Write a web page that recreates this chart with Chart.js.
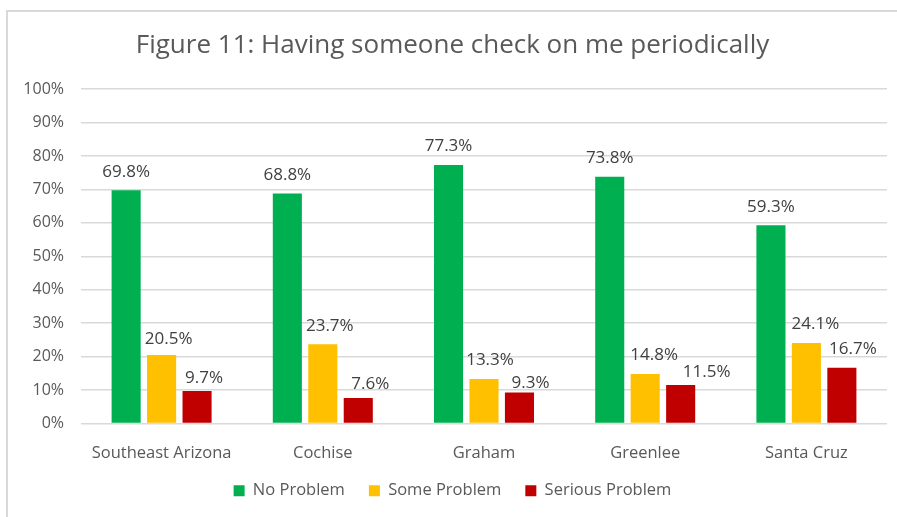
<!DOCTYPE html>
<html>
<head>
<meta charset="utf-8">
<script src="https://cdn.jsdelivr.net/npm/chart.js@4/dist/chart.umd.min.js"></script>
<style>
  body { margin: 0; background: #fff; }
  #wrap { position: relative; width: 897px; height: 517px; }
  #frame { position: absolute; left: 6px; top: 10px; right: -4px; bottom: -4px; border-top: 2px solid #d9d9d9; border-left: 2px solid #d9d9d9; }
  canvas { position: absolute; left: 0; top: 0; }
</style>
</head>
<body>
<div id="wrap">
  <div id="frame"></div>
  <canvas id="grafica" width="897" height="517"></canvas>
</div>
<script>
const regiones = ['Southeast Arizona', 'Cochise', 'Graham', 'Greenlee', 'Santa Cruz'];
const noProblem = [69.8, 68.8, 77.3, 73.8, 59.3];
const someProblem = [20.5, 23.7, 13.3, 14.8, 24.1];
const seriousProblem = [9.7, 7.6, 9.3, 11.5, 16.7];
const yTicks = [0, 10, 20, 30, 40, 50, 60, 70, 80, 90, 100];

const fuente = 'Open Sans';

// desplazamiento de las etiquetas (como en el original)
const despX = [[0, 0, 0, 0, 0], [7, 7, 6, 9, 9], [7, 12, 11, 26, 11]];
const despY = [[0, 0, 0, 0, 0], [3, 0, 0, 0, 0], [6, 5, 9, 6, 0]];

// etiquetas encima de cada barra
const etiquetas = {
  id: 'etiquetas',
  afterDatasetsDraw(chart) {
    const ctx = chart.ctx;
    ctx.save();
    ctx.font = '17px "Open Sans"';
    ctx.fillStyle = '#404040';
    ctx.textAlign = 'center';
    ctx.textBaseline = 'bottom';
    chart.data.datasets.forEach((ds, i) => {
      const meta = chart.getDatasetMeta(i);
      meta.data.forEach((bar, j) => {
        ctx.fillText(ds.data[j].toFixed(1) + '%', bar.x + despX[i][j], bar.y - 10 + despY[i][j]);
      });
    });
    ctx.restore();
  }
};

new Chart(document.getElementById('grafica'), {
  type: 'bar',
  data: {
    labels: regiones,
    datasets: [
      { label: 'No Problem', data: noProblem, backgroundColor: '#00B050' },
      { label: 'Some Problem', data: someProblem, backgroundColor: '#FFC000' },
      { label: 'Serious Problem', data: seriousProblem, backgroundColor: '#C00000' }
    ]
  },
  options: {
    responsive: false,
    animation: false,
    categoryPercentage: 0.66,
    barPercentage: 0.82,
    layout: { padding: { left: 18, right: 10, top: 0, bottom: 8 } },
    plugins: {
      title: {
        display: true,
        text: 'Figure 11: Having someone check on me periodically',
        color: '#595959',
        font: { family: fuente, size: 26, weight: 'normal' },
        padding: { top: 30, bottom: 28 }
      },
      legend: {
        position: 'bottom',
        labels: {
          color: '#595959',
          font: { family: fuente, size: 16.5 },
          boxWidth: 11,
          boxHeight: 11,
          padding: 24
        }
      },
      tooltip: { enabled: false }
    },
    scales: {
      x: {
        grid: { display: false },
        border: { display: false },
        afterFit: s => { s.height = 35; },
        ticks: { color: '#595959', font: { family: fuente, size: 16.5 }, padding: 12 }
      },
      y: {
        min: 0,
        max: 100,
        afterBuildTicks: s => { s.ticks = yTicks.map(v => ({ value: v })); },
        afterFit: s => { s.width = 63; },
        grid: { color: '#d9d9d9', lineWidth: 1.5, drawTicks: false },
        border: { display: false },
        ticks: {
          color: '#595959',
          font: { family: fuente, size: 16 },
          padding: 17,
          callback: v => v + '%'
        }
      }
    }
  },
  plugins: [etiquetas]
});
</script>
</body>
</html>
